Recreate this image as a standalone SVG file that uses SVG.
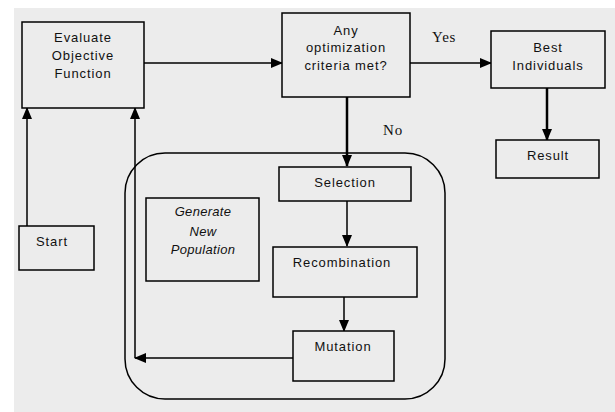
<svg xmlns="http://www.w3.org/2000/svg" width="615" height="412" viewBox="0 0 615 412">
<style>
.box{fill:#ececec;stroke:#000;stroke-width:1.5}
.t{font-family:"Liberation Sans",Arial,sans-serif;font-size:13px;letter-spacing:0.9px;fill:#111;text-anchor:middle}
.it{font-style:italic;letter-spacing:0.3px}
.lbl{font-family:"Liberation Serif","Times New Roman",serif;font-size:15px;letter-spacing:0.8px;fill:#111}
.c{fill:none;stroke:#000;stroke-width:1.5}
.thick{stroke-width:2.5}
</style>
<defs>
<marker id="ah" markerWidth="12" markerHeight="10" refX="11" refY="5" orient="auto" markerUnits="userSpaceOnUse">
<path d="M0,0 L12,5 L0,10 Z" fill="#000"/>
</marker>
</defs>
<rect x="0" y="0" width="615" height="412" fill="#fff"/>
<rect x="14" y="8" width="601" height="404" fill="#ececec"/>
<g id="container"><rect x="125" y="153" width="320" height="246" rx="40" ry="40" fill="none" stroke="#000" stroke-width="1.5"/></g>
<g id="connectors">
<line class="c" x1="144" y1="63" x2="282" y2="63" marker-end="url(#ah)"/>
<line class="c" x1="410" y1="63" x2="491" y2="63" marker-end="url(#ah)"/>
<line class="c thick" x1="547" y1="88" x2="547" y2="140" marker-end="url(#ah)"/>
<line class="c thick" x1="347" y1="97" x2="347" y2="166" marker-end="url(#ah)"/>
<line class="c" x1="347" y1="201" x2="347" y2="246" marker-end="url(#ah)"/>
<line class="c" x1="344" y1="297" x2="344" y2="331" marker-end="url(#ah)"/>
<line class="c" x1="293" y1="358" x2="135" y2="358" marker-end="url(#ah)"/>
<line class="c" x1="135" y1="358" x2="135" y2="108" marker-end="url(#ah)"/>
<line class="c" x1="27" y1="226" x2="27" y2="108" marker-end="url(#ah)"/>
<text class="lbl" x="432" y="42">Yes</text>
<text class="lbl" x="383" y="135">No</text>
</g>
<g id="evaluate"><rect class="box" x="22" y="22" width="122" height="86"/>
<text class="t" x="83" y="42">Evaluate</text><text class="t" x="83" y="60">Objective</text><text class="t" x="83" y="78">Function</text></g>
<g id="criteria"><rect class="box" x="282" y="13" width="128" height="84"/>
<text class="t" x="346" y="35">Any</text><text class="t" x="346" y="52">optimization</text><text class="t" x="346" y="70">criteria met?</text></g>
<g id="best"><rect class="box" x="491" y="31" width="114" height="57"/>
<text class="t" x="548" y="52">Best</text><text class="t" x="548" y="70">Individuals</text></g>
<g id="result"><rect class="box" x="496" y="140" width="103" height="38"/>
<text class="t" x="548" y="160">Result</text></g>
<g id="start"><rect class="box" x="19" y="226" width="75" height="44"/>
<text class="t" x="52" y="246">Start</text></g>
<g id="generate"><rect class="box" x="146" y="198" width="113" height="83"/>
<text class="t it" x="203" y="216">Generate</text><text class="t it" x="203" y="236">New</text><text class="t it" x="203" y="254">Population</text></g>
<g id="selection"><rect class="box" x="279" y="167" width="132" height="34"/>
<text class="t" x="345" y="187">Selection</text></g>
<g id="recombination"><rect class="box" x="273" y="247" width="144" height="50"/>
<text class="t" x="342" y="267">Recombination</text></g>
<g id="mutation"><rect class="box" x="293" y="331" width="101" height="50"/>
<text class="t" x="343" y="351">Mutation</text></g>
</svg>
